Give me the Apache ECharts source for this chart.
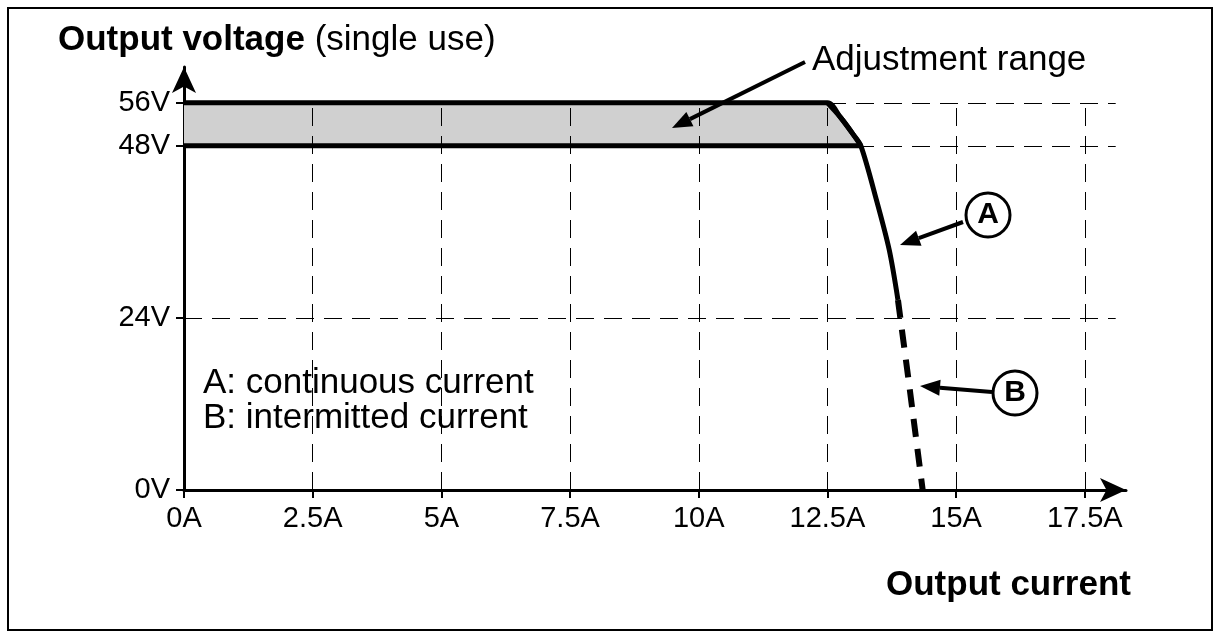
<!DOCTYPE html>
<html><head><meta charset="utf-8">
<script src="https://cdn.jsdelivr.net/npm/echarts@6/dist/echarts.min.js"></script>
<style>body{margin:0;background:#fff}#c{width:1225px;height:637px}</style>
</head><body><div id="c"></div>
<script>
// y positions are on a squeezed scale: 56V drawn at 54
const xTicks = [0, 2.5, 5, 7.5, 10, 12.5, 15, 17.5]
const xTickLabels = ['0A', '2.5A', '5A', '7.5A', '10A', '12.5A', '15A', '17.5A']
const yTicks = [0, 24, 48, 54]
const yTickLabels = ['0V', '24V', '48V', '56V']
const rangeTop = [[0, 54], [12.5, 54], [12.75, 52], [13.0, 49.6], [13.15, 48]]
const rangeBottom = [[0, 48], [13.15, 48]]
const curveA = [[12.5, 54], [12.75, 52], [13.0, 49.6], [13.15, 48], [13.45, 40.5], [13.7, 33.5], [13.87, 26.5]]
const curveB = [[13.87, 26.5], [14.1, 14], [14.35, 0]]

const font = 'Liberation Sans, Arial, sans-serif'
const el = document.getElementById('c')
const chart = echarts.init(el)

const dash = { color: '#000', type: [18, 10], width: 1 }
const vLines = xTicks.slice(1).map(x => [{ coord: [x, 0] }, { coord: [x, 54] }])
const hLines = yTicks.slice(1).map(y => [{ coord: [0, y] }, { coord: [18.1, y] }])

function arrow(x1, y1, x2, y2) {
    const a = Math.atan2(y2 - y1, x2 - x1), L = 20, W = 8
    const bx = x2 - L * Math.cos(a), by = y2 - L * Math.sin(a)
    return [
        { type: 'line', z: 100, shape: { x1, y1, x2: bx, y2: by }, style: { stroke: '#000', lineWidth: 4 } },
        { type: 'polygon', z: 100, shape: { points: [[x2, y2], [bx + W * Math.sin(a), by - W * Math.cos(a)], [bx - W * Math.sin(a), by + W * Math.cos(a)]] }, style: { fill: '#000' } }
    ]
}
const txt = (x, y, t, extra) => ({ type: 'text', z: 100, x, y, style: Object.assign({ text: t, font: '35px ' + font, fill: '#000', verticalAlign: 'middle' }, extra) })
const circ = (cx, cy, t) => [
    { type: 'circle', z: 100, shape: { cx, cy, r: 22 }, style: { fill: '#fff', stroke: '#000', lineWidth: 3 } },
    txt(cx, cy, t, { align: 'center', font: 'bold 30px ' + font })
]

chart.setOption({
    animation: false,
    grid: { left: 184, right: 99, top: 67, bottom: 147 },
    xAxis: {
        type: 'value', min: 0, max: 18.3,
        axisLine: { lineStyle: { color: '#000', width: 3 }, symbol: ['none', 'arrow'], symbolSize: [18, 26] },
        axisTick: { customValues: xTicks, length: 8, lineStyle: { color: '#000', width: 2 } },
        axisLabel: { customValues: xTicks, formatter: v => xTickLabels[xTicks.indexOf(v)], color: '#000', fontSize: 29, fontFamily: font, margin: 14 },
        splitLine: { show: false }
    },
    yAxis: {
        type: 'value', min: 0, max: 59,
        axisLine: { show: true, lineStyle: { color: '#000', width: 3 }, symbol: ['none', 'arrow'], symbolSize: [18, 26] },
        axisTick: { show: true, customValues: yTicks, length: 8, lineStyle: { color: '#000', width: 2 } },
        axisLabel: { customValues: yTicks, formatter: v => yTickLabels[yTicks.indexOf(v)], color: '#000', fontSize: 29, fontFamily: font, margin: 14 },
        splitLine: { show: false }
    },
    series: [
        {
            type: 'line', data: rangeTop, symbol: 'none', smooth: 0.3,
            lineStyle: { color: '#000', width: 5 },
            areaStyle: { color: '#d0d0d0', opacity: 1, origin: 48 },
            markLine: { silent: true, symbol: 'none', label: { show: false }, lineStyle: dash, data: vLines.concat(hLines) },
            z: 1
        },
        { type: 'line', data: rangeBottom, symbol: 'none', lineStyle: { color: '#000', width: 5 }, z: 3 },
        { type: 'line', data: curveA, symbol: 'none', smooth: 0.3, lineStyle: { color: '#000', width: 5 }, z: 3 },
        { type: 'line', data: curveB, symbol: 'none', smooth: 0.2, lineStyle: { color: '#000', width: 6, type: [18, 12] }, z: 3 }
    ],
    graphic: [
        { type: 'rect', shape: { x: 8, y: 8, width: 1204, height: 622 }, style: { fill: 'none', stroke: '#000', lineWidth: 2 }, z: -10 },
        { type: 'text', z: 100, x: 58, y: 40, style: { rich: { b: { font: 'bold 35px ' + font }, n: { font: '35px ' + font } }, text: '{b|Output voltage}{n| (single use)}', fill: '#000', verticalAlign: 'middle' } },
        txt(886, 585, 'Output current', { font: 'bold 35px ' + font }),
        txt(812, 60, 'Adjustment range'),
        txt(203, 383, 'A: continuous current'),
        txt(203, 418, 'B: intermitted current'),
        ...arrow(805, 62, 672, 128),
        ...arrow(963, 222, 900, 245),
        ...arrow(992, 392, 920, 386),
        ...circ(988, 215, 'A'),
        ...circ(1015, 393, 'B')
    ]
})
</script></body></html>
